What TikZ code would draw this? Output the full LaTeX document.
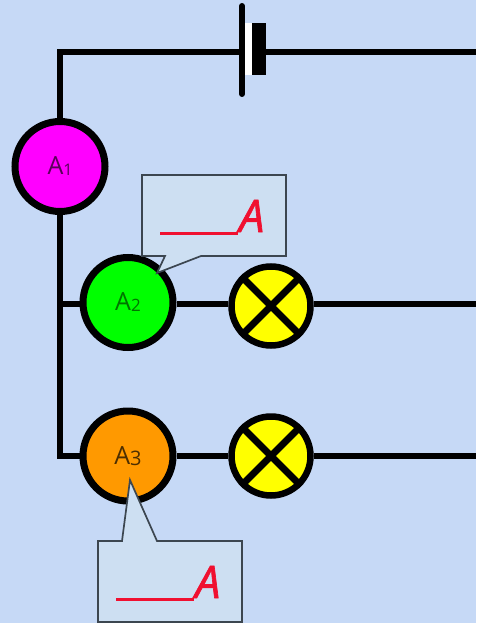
\documentclass[tikz,border=0pt]{standalone}
\usepackage{fontspec}
\setmainfont{Open Sans}
\newfontfamily\handfont[FakeBold=1.5]{Open Sans Italic}
\definecolor{bgblue}{HTML}{C6D9F6}
\definecolor{callfill}{HTML}{CDDFF2}
\definecolor{callline}{HTML}{3C4650}
\definecolor{lampyellow}{HTML}{FFFF00}
\definecolor{meterpink}{HTML}{FF00FF}
\definecolor{metergreen}{HTML}{00FF00}
\definecolor{meterorange}{HTML}{FF9900}
\definecolor{inkred}{HTML}{F01030}
\tikzset{
  wire/.style={draw=black,line width=6.6pt},
  meter/.style={circle,draw=black,line width=7pt,minimum size=90pt,inner sep=0pt,font=\fontsize{25}{27}\selectfont,text=#1},
  lampnode/.style={circle,draw=black,line width=6.5pt,fill=lampyellow,minimum size=79pt,inner sep=0pt},
  lampcross/.style={draw=black,line width=7pt},
  callout/.style={draw=callline,line width=1.7pt,fill=callfill,line join=miter},
  answer/.style={inner sep=0pt,anchor=base west,text=inkred,font=\handfont\fontsize{45}{48}\selectfont}
}
\newcommand{\metertext}[2]{A\raisebox{-1pt}{\fontsize{#1}{#1}\selectfont #2}}
\newcommand{\blankA}{\rule[-3pt]{78pt}{3.2pt}\hspace{1pt}A}
\begin{document}
\begin{tikzpicture}[x=1pt,y=-1pt]
\useasboundingbox (0,0) rectangle (476,623);
\fill[bgblue] (0,0) rectangle (476,623);
% free ends and corners
\coordinate (tl) at (60,52);
\coordinate (bl) at (60,456);
\coordinate (midl) at (60,304);
\coordinate (batl) at (242,52);
\coordinate (batr) at (266,52);
\coordinate (topr) at (476,52);
\coordinate (midr) at (476,304);
\coordinate (botr) at (476,456);
\coordinate (plateT) at (242,6);
\coordinate (plateB) at (242,94);
% nodes
\node[meter=black!65!meterpink,fill=meterpink] (a1) at (60,166.5) {\metertext{16}{1}};
\node[meter=black!55!metergreen,fill=metergreen] (a2) at (128,302.5) {\metertext{17}{2}};
\node[meter=black!70!meterorange,fill=meterorange] (a3) at (128,456) {\metertext{20}{3}};
\node[lampnode] (l1) at (271,306) {};
\node[lampnode] (l2) at (271,456) {};
% wires
\draw[wire] (batl) -- (tl) -- (a1.north);
\draw[wire] (a1.south) -- (bl) -- (a3.west);
\draw[wire] (midl) -- (a2.west |- midl);
\draw[wire] (a2.east |- midl) -- (l1.west |- midl);
\draw[wire] (a3.east) -- (l2.west);
\draw[wire] (l1.east |- midl) -- (midr);
\draw[wire] (l2.east) -- (botr);
\draw[wire] (batr) -- (topr);
% lamp crosses
\foreach \n in {l1,l2}{
  \draw[lampcross] (\n.north west) -- (\n.south east);
  \draw[lampcross] (\n.north east) -- (\n.south west);
}
% battery
\fill[white] (245,23) rectangle (252,75);
\fill[black] (252,23) rectangle (266,75);
\draw[line width=6pt,black,line cap=round] (plateT) -- (plateB);
% callouts
\draw[callout] (142,175) -- (286,175) -- (286,256) -- (201,256) -- (157,273) -- (165,256) -- (142,256) -- cycle;
\draw[callout] (98,541) -- (122,541) -- (130,480) -- (157,541) -- (242,541) -- (242,622) -- (98,622) -- cycle;
\node[answer] (ans1) at (160,232) {\blankA};
\node[answer] (ans2) at (116,598) {\blankA};
\end{tikzpicture}
\end{document}
